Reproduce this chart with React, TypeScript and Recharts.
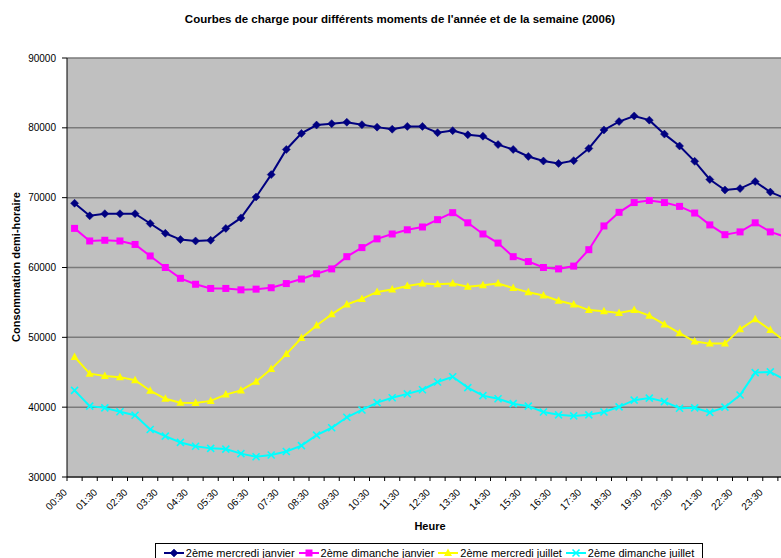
import React from 'react';
import { LineChart, Line, XAxis, YAxis, CartesianGrid } from 'recharts';

const times = [
  '00:30', '01:00', '01:30', '02:00', '02:30', '03:00', '03:30', '04:00', '04:30', '05:00', '05:30', '06:00',
  '06:30', '07:00', '07:30', '08:00', '08:30', '09:00', '09:30', '10:00', '10:30', '11:00', '11:30', '12:00',
  '12:30', '13:00', '13:30', '14:00', '14:30', '15:00', '15:30', '16:00', '16:30', '17:00', '17:30', '18:00',
  '18:30', '19:00', '19:30', '20:00', '20:30', '21:00', '21:30', '22:00', '22:30', '23:00', '23:30', '00:00',
];

const mercrediJanvier = [
  69200, 67400, 67700, 67700, 67700, 66300, 64900, 64000, 63800, 63900, 65600, 67100,
  70100, 73300, 76900, 79200, 80400, 80600, 80800, 80450, 80100, 79800, 80200, 80200,
  79300, 79600, 79000, 78800, 77600, 76900, 75900, 75250, 74900, 75300, 77050, 79700,
  80900, 81700, 81100, 79100, 77400, 75200, 72600, 71100, 71300, 72300, 70800, 69900,
];
const dimancheJanvier = [
  65600, 63800, 63900, 63800, 63300, 61650, 60000, 58450, 57600, 57000, 57000, 56800,
  56900, 57100, 57700, 58350, 59100, 59800, 61550, 62850, 64100, 64800, 65400, 65800,
  66850, 67850, 66400, 64800, 63500, 61550, 60850, 60000, 59800, 60200, 62550, 65950,
  67900, 69300, 69600, 69300, 68750, 67800, 66100, 64700, 65100, 66400, 65100, 64400,
];
const mercrediJuillet = [
  47200, 44800, 44450, 44300, 43850, 42350, 41200, 40650, 40600, 40900, 41800, 42400,
  43650, 45450, 47600, 49900, 51700, 53300, 54700, 55500, 56500, 56850, 57350, 57700,
  57600, 57700, 57250, 57450, 57700, 57050, 56450, 56000, 55250, 54700, 53900, 53750,
  53500, 53900, 53100, 51850, 50600, 49400, 49100, 49100, 51150, 52600, 51050, 49400,
];
const dimancheJuillet = [
  42400, 40150, 39900, 39350, 38850, 36800, 35850, 34950, 34400, 34100, 34000, 33350,
  32900, 33150, 33650, 34500, 36000, 37050, 38550, 39600, 40650, 41350, 41900, 42500,
  43600, 44350, 42800, 41650, 41200, 40500, 40150, 39300, 38900, 38750, 38900, 39300,
  40050, 41000, 41300, 40800, 39850, 39900, 39250, 40000, 41750, 44950, 45050, 43900,
];

const seriesNames = ['2ème mercredi janvier', '2ème dimanche janvier', '2ème mercredi juillet', '2ème dimanche juillet'];
const seriesKeys = ['mj', 'dj', 'mjl', 'djl'];
const seriesColors = ['#000080', '#FF00FF', '#FFFF00', '#00FFFF'];
const yTicks = [30000, 40000, 50000, 60000, 70000, 80000, 90000];

const title = "Courbes de charge pour différents moments de l'année et de la semaine (2006)";
const xTitle = 'Heure';
const yTitle = 'Consommation demi-horaire';

const data = times.map((t, i) => ({
  time: t,
  mj: mercrediJanvier[i],
  dj: dimancheJanvier[i],
  mjl: mercrediJuillet[i],
  djl: dimancheJuillet[i],
}));

const FONT = '"Liberation Sans", Arial, sans-serif';
const CHART_W = 800;
const CHART_H = 565;
const M_TOP = 58;
const M_RIGHT = 7;
const Y_W = 67;
const X_H = 88;
const BAND = (CHART_W - Y_W - M_RIGHT) / times.length;

function Marker({ kind, cx, cy, color }: { kind: number; cx: number; cy: number; color: string }) {
  if (cx == null || cy == null) return null;
  if (kind === 0) {
    return <polygon points={`${cx},${cy - 4} ${cx + 4},${cy} ${cx},${cy + 4} ${cx - 4},${cy}`} fill={color} stroke={color} strokeWidth={0.5} />;
  }
  if (kind === 1) {
    return <rect x={cx - 3.5} y={cy - 3.5} width={7} height={7} fill={color} />;
  }
  if (kind === 2) {
    return <polygon points={`${cx},${cy - 4.5} ${cx + 4},${cy + 3} ${cx - 4},${cy + 3}`} fill={color} />;
  }
  return (
    <g stroke={color} strokeWidth={1.6}>
      <line x1={cx - 3.5} y1={cy - 3.5} x2={cx + 3.5} y2={cy + 3.5} />
      <line x1={cx - 3.5} y1={cy + 3.5} x2={cx + 3.5} y2={cy - 3.5} />
    </g>
  );
}

function XTick(props: any) {
  const { x, y, payload, index } = props;
  const idx = payload && payload.index != null ? payload.index : index;
  const left = x - BAND / 2;
  return (
    <g>
      <line x1={left} y1={y} x2={left} y2={y + 4} stroke="#000" strokeWidth={1} />
      {idx === times.length - 1 ? <line x1={x + BAND / 2} y1={y} x2={x + BAND / 2} y2={y + 4} stroke="#000" /> : null}
      {idx % 2 === 0 ? (
        <text
          x={x - 7}
          y={y + 16}
          transform={`rotate(-45, ${x - 7}, ${y + 16})`}
          textAnchor="end"
          fontSize={10}
          fontFamily={FONT}
          fill="#000"
        >
          {payload.value}
        </text>
      ) : null}
    </g>
  );
}

export default function App() {
  return (
    <div style={{ position: 'absolute', left: 0, top: 0, width: 781, height: 558, overflow: 'hidden', background: '#ffffff', fontFamily: FONT }}>
      <div style={{ position: 'absolute', left: 0, top: 13, width: 800, textAlign: 'center', fontSize: 11.5, fontWeight: 'bold', color: '#000' }}>
        {title}
      </div>
      <div style={{ position: 'absolute', left: 0, top: 0 }}>
        <LineChart width={CHART_W} height={CHART_H} data={data} margin={{ top: M_TOP, right: M_RIGHT, left: 0, bottom: 0 }}>
          <CartesianGrid vertical={false} stroke="#7a7a7a" strokeWidth={1.5} fill="#c0c0c0" fillOpacity={1} />
          <XAxis
            dataKey="time"
            interval={0}
            height={X_H}
            padding={{ left: BAND / 2, right: BAND / 2 }}
            tickLine={false}
            tickSize={0}
            tickMargin={0}
            axisLine={{ stroke: '#000', strokeWidth: 1 }}
            tick={<XTick />}
          />
          <YAxis
            width={Y_W}
            domain={[30000, 90000]}
            ticks={yTicks}
            interval={0}
            tickSize={5}
            tickMargin={6}
            tickLine={{ stroke: '#000' }}
            axisLine={{ stroke: '#000', strokeWidth: 1 }}
            tick={{ fontSize: 10, fill: '#000', fontFamily: FONT }}
          />
          {seriesKeys.map((k, si) => (
            <Line
              key={k}
              type="linear"
              dataKey={k}
              name={seriesNames[si]}
              stroke={seriesColors[si]}
              strokeWidth={2}
              isAnimationActive={false}
              dot={(p: any) => <Marker key={`${k}-${p.index}`} kind={si} cx={p.cx} cy={p.cy} color={seriesColors[si]} />}
              activeDot={false}
            />
          ))}
        </LineChart>
      </div>
      <div style={{ position: 'absolute', left: 0, top: 520, width: 860, textAlign: 'center', fontSize: 11, fontWeight: 'bold', color: '#000' }}>
        {xTitle}
      </div>
      <div
        style={{
          position: 'absolute',
          left: 16,
          top: 267,
          transform: 'translate(-50%, -50%) rotate(-90deg)',
          whiteSpace: 'nowrap',
          fontSize: 11,
          fontWeight: 'bold',
          color: '#000',
        }}
      >
        {yTitle}
      </div>
      <div
        style={{
          position: 'absolute',
          left: 155,
          top: 543,
          width: 546,
          height: 18,
          border: '1px solid #000',
          display: 'flex',
          alignItems: 'center',
          justifyContent: 'center',
          fontSize: 11,
          color: '#000',
          background: '#fff',
        }}
      >
        {seriesNames.map((n, si) => (
          <span key={n} style={{ display: 'inline-flex', alignItems: 'center', marginRight: si < 3 ? 4 : 0 }}>
            <svg width={20} height={10} style={{ marginRight: 2 }}>
              <line x1={0} y1={5} x2={20} y2={5} stroke={seriesColors[si]} strokeWidth={2} />
              <Marker kind={si} cx={10} cy={5} color={seriesColors[si]} />
            </svg>
            {n}
          </span>
        ))}
      </div>
    </div>
  );
}
